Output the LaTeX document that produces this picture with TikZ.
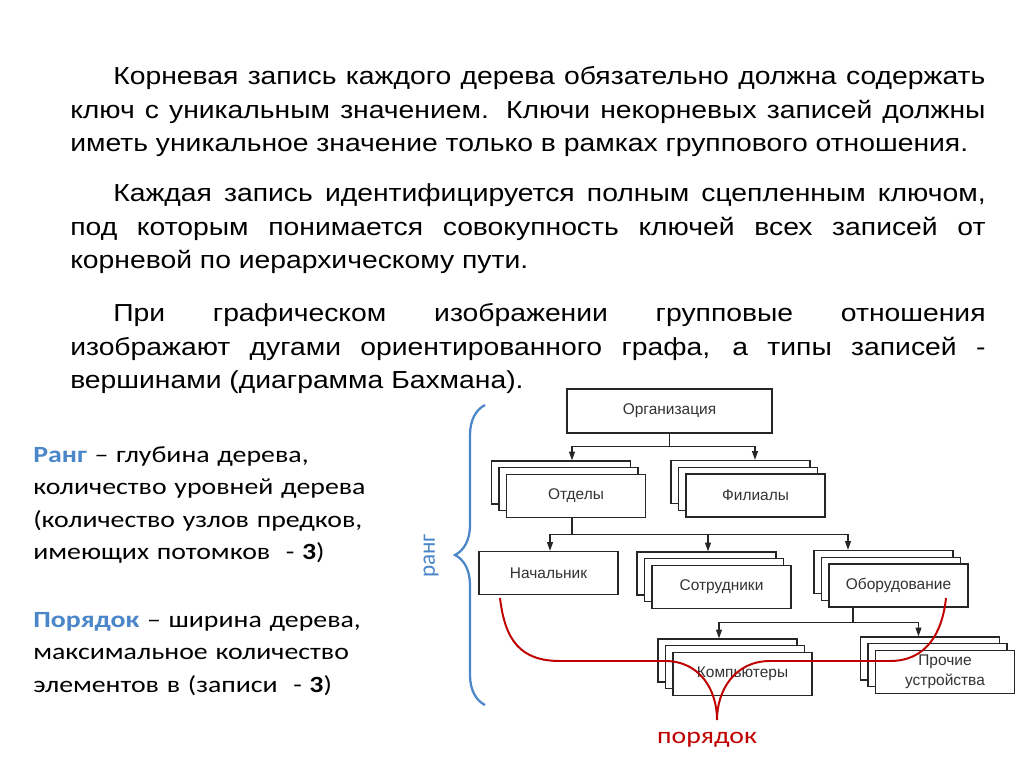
\documentclass[tikz,border=0pt]{standalone}
\usepackage{fontspec}
\setmainfont{Liberation Sans}
\newfontfamily\slidefont[FakeStretch=1.15]{Liberation Sans}
\newfontfamily\notefont[FakeStretch=1.2]{Carlito}
\newfontfamily\rangfont{Carlito}
\usepackage{tikz}
\usetikzlibrary{arrows.meta,positioning,calc,decorations.pathreplacing}
\definecolor{rangblue}{HTML}{4A86C8}
\definecolor{orderred}{HTML}{C00000}
\tikzset{
  paratext/.style={anchor=base west,inner sep=0pt,text width=22.875cm,align=justify,
    font=\slidefont\fontsize{17.5}{24}\selectfont},
  notetext/.style={anchor=base west,inner sep=0pt,text width=9cm,align=left,
    font=\notefont\fontsize{16.5}{23.2}\selectfont},
  recbox/.style={draw=black!85,line width=0.9pt,fill=white,minimum width=3.475cm,
    minimum height=1.075cm,inner sep=1pt,align=center,
    font=\fontsize{11}{14}\selectfont,text=black!80},
  treeline/.style={draw=black!85,line width=0.8pt},
  treearrow/.style={-{Triangle[length=2.2mm,width=1.5mm]},draw=black!85,line width=0.8pt}
}

\begin{document}
\begin{tikzpicture}[x=0.025cm,y=-0.025cm]
  \fill[white] (0,0) rectangle (1024,767);
  \useasboundingbox (0,0) rectangle (1024,767);

  % text of the slide
  \node[paratext] (para1) at (70,84.5) {\hyphenpenalty=10000\hspace*{1.075cm}Корневая запись каждого дерева обязательно должна содержать\linebreak
    ключ с уникальным значением. Ключи некорневых записей должны\linebreak
    иметь уникальное значение только в рамках группового отношения.};
  \node[paratext] (para2) at (70,201.5) {\hyphenpenalty=10000\hspace*{1.075cm}Каждая запись идентифицируется полным сцепленным ключом,\linebreak
    под которым понимается совокупность ключей всех записей от\linebreak
    корневой по иерархическому пути.};
  \node[paratext] (para3) at (70,321.5) {\hyphenpenalty=10000\hspace*{1.075cm}При графическом изображении групповые отношения\linebreak
    изображают дугами ориентированного графа, а типы записей -\linebreak
    вершинами (диаграмма Бахмана).};

  \node[notetext] (rangnote) at (33,462) {\textcolor{rangblue}{\textbf{Ранг}} – глубина дерева,\\
    количество уровней дерева\\(количество узлов предков,\\имеющих потомков~ - \textbf{3})};
  \node[notetext] (ordernote) at (33,627) {\textcolor{rangblue}{\textbf{Порядок}} – ширина дерева,\\
    максимальное количество\\элементов в (записи~ - \textbf{3})};

  % Bachman diagram
  \node[recbox,minimum width=5.125cm,minimum height=1.1cm] (org) at (669.5,411) {Организация};
  \node[recbox] (nach) at (548.5,573) {Начальник};
  \foreach \nm/\px/\py/\txt in {otd/576/496/Отделы,fil/755.5/495.5/Филиалы,
      sotr/721.5/587/Сотрудники,obor/898.5/585.5/Оборудование,
      komp/742.5/674/Компьютеры,proch/945/672/{Прочие\\устройства}}{
    \node[recbox] (\nm2) at (\px-15,\py-13.5) {};
    \node[recbox] (\nm1) at (\px-7.5,\py-6.75) {};
    \node[recbox] (\nm) at (\px,\py) {\txt};
  }

  \draw[treeline] (org.south) -- ++(0,13) coordinate (fork1);
  \draw[treearrow] (fork1) -| ($(otd2.north)+(11,0)$);
  \draw[treearrow] (fork1) -| ($(fil2.north)+(14.5,0)$);
  \draw[treeline] ($(otd.south)+(-4,0)$) -- ++(0,16) coordinate (fork2);
  \draw[treearrow] (fork2) -| ($(nach.north)+(1.5,0)$);
  \draw[treearrow] (fork2) -| ($(sotr2.north)+(1.5,0)$);
  \draw[treearrow] (fork2) -| ($(obor2.north)+(-35.5,0)$);
  \draw[treeline] ($(obor.south)+(-45.5,0)$) -- ++(0,15) coordinate (fork3);
  \draw[treearrow] (fork3) -| ($(komp2.north)+(-8.5,0)$);
  \draw[treearrow] (fork3) -| ($(proch2.north)+(-11.5,0)$);

  % rank brace
  \draw[rangblue,line width=1.6pt,decorate,decoration={brace,amplitude=0.75cm}]
    (485,705) -- (485,405);
  \node[rotate=90,text=rangblue,font=\rangfont\fontsize{16.5}{20}\selectfont] (rangtext) at (431,556) {ранг};

  % order bracket
  \node[text=orderred,font=\notefont\fontsize{16.5}{20}\selectfont] (ordertext) at (707,740) {порядок};
  \coordinate (ordertip) at (717,720);
  \draw[orderred,line width=1.4pt] (500,598) .. controls (505,640) and (520,661) .. (560,661)
    -- (665,661) .. controls (700,661) and (717,690) .. (ordertip)
    .. controls (717,690) and (735,661) .. (770,661) -- (890,661)
    .. controls (925,661) and (942,635) .. (946,598);
\end{tikzpicture}
\end{document}
